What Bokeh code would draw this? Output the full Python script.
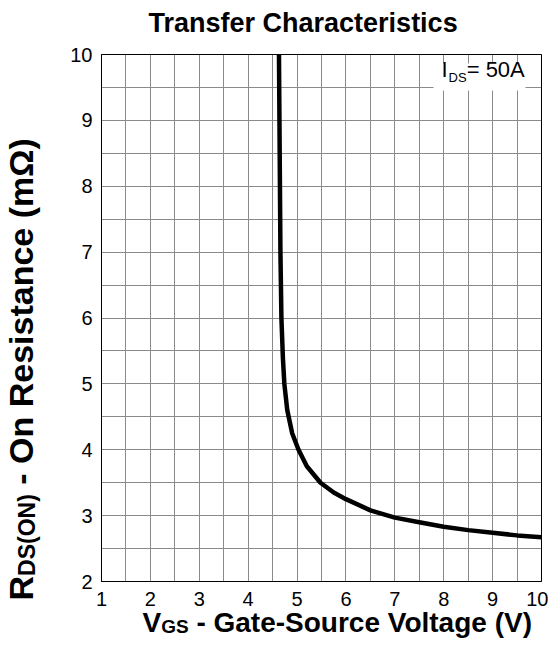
import numpy as np
from bokeh.plotting import figure
from bokeh.models import Range1d, FixedTicker, Label, BoxAnnotation, Grid
from bokeh.embed import file_html
from bokeh.resources import INLINE

# ---- data ----
vgs = [4.63, 4.64, 4.65, 4.66, 4.68, 4.71, 4.74, 4.80, 4.90, 5.03, 5.20, 5.48,
       5.75, 6.00, 6.50, 7.00, 7.50, 8.00, 8.50, 9.00, 9.50, 10.00]
rds = [10.0, 9.0, 8.0, 7.0, 6.0, 5.4, 5.0, 4.6, 4.25, 4.0, 3.75, 3.5,
       3.35, 3.25, 3.08, 2.97, 2.90, 2.83, 2.78, 2.74, 2.70, 2.67]
x_min, x_max = 1, 10
y_min, y_max = 2, 10
x_ticks = [1, 2, 3, 4, 5, 6, 7, 8, 9, 10]
y_ticks = [2, 3, 4, 5, 6, 7, 8, 9, 10]
grid_x = [1 + 0.5 * i for i in range(19)]
grid_y = [2 + 0.5 * i for i in range(17)]

FONT = "Liberation Sans"
BW = {' ': 278, '(': 333, ')': 333, '-': 333, '=': 584, 'A': 722, 'C': 722,
      'D': 722, 'G': 778, 'I': 278, 'N': 722, 'O': 778, 'R': 722, 'S': 667,
      'V': 667, 'a': 556, 'c': 556, 'e': 556, 'g': 611, 'h': 611, 'i': 278,
      'l': 278, 'm': 889, 'n': 611, 'o': 611, 'r': 389, 's': 556, 't': 333,
      'u': 611, 'Ω': 768}
RW = {' ': 278, '=': 584, 'A': 667, 'D': 722, 'S': 667, 'I': 278, '0': 556, '5': 556}
BASE_CORR = 0.38   # empirical shift of Bokeh's "alphabetic" baseline


def tw(s, size, table):
    return sum(table.get(c, 556) for c in s) * size / 1000.0


# plot-area placement on the canvas (pixels)
W, H = 548, 640
AL, AT, AW, AH = 101, 54, 440, 527
PX = AW / (x_max - x_min)
PY = AH / (y_max - y_min)
X0 = x_min - AL / PX
X1 = X0 + W / PX
Y1 = y_max + AT / PY
Y0 = Y1 - H / PY


def dx(px):
    return X0 + px / PX


def dy(py):
    return Y1 - py / PY


p = figure(width=W, height=H, x_range=Range1d(X0, X1), y_range=Range1d(Y0, Y1),
           output_backend="svg", toolbar_location=None,
           min_border=0, min_border_left=0, min_border_right=0,
           min_border_top=0, min_border_bottom=0)
p.background_fill_color = "white"
p.border_fill_color = "white"
p.outline_line_color = None

for ax, loc, bnds in ((p.xaxis[0], y_min, (x_min, x_max)), (p.yaxis[0], x_min, (y_min, y_max))):
    ax.fixed_location = loc
    ax.bounds = bnds
    ax.major_tick_line_color = None
    ax.minor_tick_line_color = None
    ax.major_tick_out = 0
    ax.major_tick_in = 0
    ax.minor_tick_out = 0
    ax.minor_tick_in = 0
    ax.axis_line_color = "black"
    ax.major_label_text_font = FONT
    ax.major_label_text_font_size = "20px"
    ax.major_label_text_color = "black"
p.xaxis.ticker = FixedTicker(ticks=x_ticks)
p.yaxis.ticker = FixedTicker(ticks=y_ticks)
p.xaxis.major_label_standoff = 10
p.yaxis.major_label_standoff = 9

GRID_COLOR = "#8a8a8a"
has_cross = "cross_bounds" in Grid.properties()
if has_cross:
    p.xgrid.ticker = FixedTicker(ticks=grid_x)
    p.ygrid.ticker = FixedTicker(ticks=grid_y)
    p.xgrid.bounds = (x_min, x_max)
    p.ygrid.bounds = (y_min, y_max)
    p.xgrid.cross_bounds = (y_min, y_max)
    p.ygrid.cross_bounds = (x_min, x_max)
    for g in (p.xgrid[0], p.ygrid[0]):
        g.grid_line_color = GRID_COLOR
        g.grid_line_width = 1
    p.add_layout(Grid(dimension=0, ticker=FixedTicker(ticks=[x_min, x_max]),
                      bounds=(x_min, x_max), cross_bounds=(y_min, y_max),
                      grid_line_color="black", grid_line_width=1))
    p.add_layout(Grid(dimension=1, ticker=FixedTicker(ticks=[y_min, y_max]),
                      bounds=(y_min, y_max), cross_bounds=(x_min, x_max),
                      grid_line_color="black", grid_line_width=1))
else:
    p.xgrid.visible = False
    p.ygrid.visible = False
    p.segment(x0=grid_x, y0=[y_min] * len(grid_x), x1=grid_x, y1=[y_max] * len(grid_x),
              line_color=GRID_COLOR, line_width=1)
    p.segment(x0=[x_min] * len(grid_y), y0=grid_y, x1=[x_max] * len(grid_y), y1=grid_y,
              line_color=GRID_COLOR, line_width=1)
    p.segment(x0=[x_min, x_max, x_min, x_min], y0=[y_min, y_min, y_min, y_max],
              x1=[x_min, x_max, x_max, x_max], y1=[y_max, y_max, y_min, y_max],
              line_color="black", line_width=1)

p.line(vgs, rds, line_color="black", line_width=4.5)


def hlabel(text, px, base_py, size, bold=False):
    p.add_layout(Label(x=dx(px), y=dy(base_py - BASE_CORR * size), text=text,
                       text_font=FONT, text_font_size=f"{size}px",
                       text_font_style="bold" if bold else "normal", text_color="black",
                       text_baseline="alphabetic", text_align="left"))


def vlabel(text, base_px, py, size, bold=True):
    p.add_layout(Label(x=dx(base_px - BASE_CORR * size), y=dy(py), text=text,
                       text_font=FONT, text_font_size=f"{size}px",
                       text_font_style="bold" if bold else "normal", text_color="black",
                       text_baseline="alphabetic", text_align="left", angle=np.pi / 2))


# legend box
p.add_layout(BoxAnnotation(left=dx(433), right=dx(525), top=dy(63), bottom=dy(90),
                           fill_color="white", fill_alpha=1.0, line_color=None))
LB, LS = 22, 13
lx, lb = 441, 77
hlabel("I", lx, lb, LB)
lx2 = lx + tw("I", LB, RW) + 1
hlabel("DS", lx2, lb + 5, LS)
lx3 = lx2 + tw("DS", LS, RW)
hlabel("= 50A", lx3, lb, LB)

# title
hlabel("Transfer Characteristics", 148, 33, 27, bold=True)

# x axis label
BIG, SUB = 28, 19
xs, xb = 142, 633
hlabel("V", xs, xb, BIG, bold=True)
xs2 = xs + tw("V", BIG, BW)
hlabel("GS", xs2, xb, SUB, bold=True)
xs3 = xs2 + tw("GS", SUB, BW) + tw(" ", BIG, BW)
hlabel("- Gate-Source Voltage (V)", xs3, xb, BIG, bold=True)

# y axis label (rotated, reads bottom to top)
YB, YS = 34, 23
yb, ys = 33, 600
vlabel("R", yb, ys, YB)
ys2 = ys - tw("R", YB, BW)
vlabel("DS(ON)", yb + 2, ys2, YS)
ys3 = ys2 - tw("DS(ON)", YS, BW) - tw(" ", YB, BW)
vlabel("- On Resistance (mΩ)", yb, ys3, YB)

open("out.html", "w").write(file_html(p, INLINE))
